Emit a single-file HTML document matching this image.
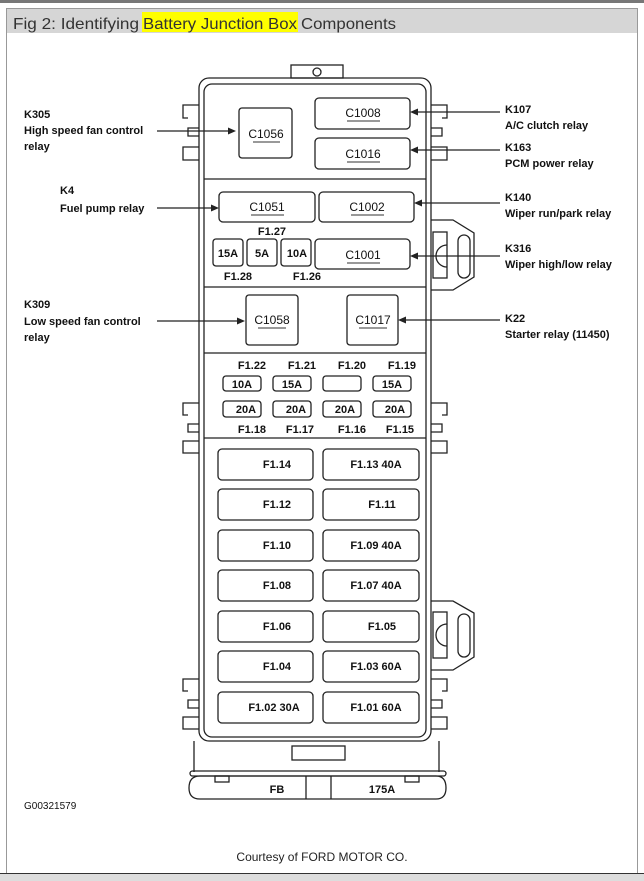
<!DOCTYPE html>
<html><head><meta charset="utf-8"><style>
body{margin:0;background:#fff;width:644px;height:881px;overflow:hidden}
svg{display:block}
text{font-family:"Liberation Sans",Arial,sans-serif}
.b{font-weight:bold;font-size:11px;fill:#111}
.c{font-size:12px;fill:#111;text-anchor:middle}
</style></head><body>
<svg width="644" height="881" viewBox="0 0 644 881">
<rect x="0" y="0" width="644" height="881" fill="#fff"/>
<rect x="0" y="0" width="644" height="3" fill="#777"/>
<rect x="6.5" y="8.5" width="631" height="865" fill="#fff" stroke="#999"/>
<rect x="7" y="9" width="630" height="24" fill="#d6d6d6"/>
<rect x="142" y="12" width="156" height="20" fill="#ffff00"/>
<g style="font-size:16px;fill:#333">
<text x="13" y="29" textLength="126" lengthAdjust="spacingAndGlyphs">Fig 2: Identifying</text>
<text x="143" y="29" textLength="154" lengthAdjust="spacingAndGlyphs">Battery Junction Box</text>
<text x="301" y="29" textLength="95" lengthAdjust="spacingAndGlyphs">Components</text>
</g>
<rect x="0" y="873" width="644" height="8" fill="#ddd"/>
<line x1="0" y1="873.5" x2="644" y2="873.5" stroke="#333"/>
<g fill="none" stroke="#222" stroke-width="1.3">
<rect x="291" y="65" width="52" height="13"/>
<circle cx="317" cy="72" r="4"/>
<rect x="199" y="78" width="232" height="663" rx="10"/>
<rect x="204" y="84" width="222" height="653" rx="8"/>
<line x1="204" y1="179" x2="426" y2="179"/>
<line x1="204" y1="287" x2="426" y2="287"/>
<line x1="204" y1="353" x2="426" y2="353"/>
<line x1="204" y1="438" x2="426" y2="438"/>
<path d="M199 105 H183 V118 H188 M199 128 H188 V136 H199 M199 147 H183 V160 H199"/>
<path d="M431 105 H447 V118 H442 M431 128 H442 V136 H431 M431 147 H447 V160 H431"/>
<path d="M199 403 H183 V415 H188 M199 424 H188 V432 H199 M199 441 H183 V453 H199"/>
<path d="M431 403 H447 V415 H442 M431 424 H442 V432 H431 M431 441 H447 V453 H431"/>
<path d="M199 679 H183 V691 H188 M199 700 H188 V708 H199 M199 717 H183 V729 H199"/>
<path d="M431 679 H447 V691 H442 M431 700 H442 V708 H431 M431 717 H447 V729 H431"/>
<path d="M431 220 H453 L474 233 V277 L453 290 H431"/>
<rect x="433" y="232" width="14" height="46"/>
<path d="M447 245 A11 11 0 0 0 447 267"/>
<rect x="458" y="235" width="12" height="43" rx="6"/>
<path d="M431 601 H453 L474 613 V657 L453 670 H431"/>
<rect x="433" y="612" width="14" height="46"/>
<path d="M447 624 A11 11 0 0 0 447 646"/>
<rect x="458" y="614" width="12" height="43" rx="6"/>
<rect x="239" y="108" width="53" height="50" rx="3"/>
<rect x="315" y="98" width="95" height="31" rx="4"/>
<rect x="315" y="138" width="95" height="31" rx="4"/>
<rect x="219" y="192" width="96" height="30" rx="4"/>
<rect x="319" y="192" width="95" height="30" rx="4"/>
<rect x="213" y="239" width="30" height="27" rx="3"/>
<rect x="247" y="239" width="30" height="27" rx="3"/>
<rect x="281" y="239" width="30" height="27" rx="3"/>
<rect x="315" y="239" width="95" height="30" rx="4"/>
<rect x="246" y="295" width="52" height="50" rx="3"/>
<rect x="347" y="295" width="51" height="50" rx="3"/>
<rect x="223" y="376" width="38" height="15" rx="3"/><rect x="273" y="376" width="38" height="15" rx="3"/><rect x="323" y="376" width="38" height="15" rx="3"/><rect x="373" y="376" width="38" height="15" rx="3"/>
<rect x="223" y="401" width="38" height="16" rx="3"/><rect x="273" y="401" width="38" height="16" rx="3"/><rect x="323" y="401" width="38" height="16" rx="3"/><rect x="373" y="401" width="38" height="16" rx="3"/>
<rect x="218" y="449" width="95" height="31" rx="4"/><rect x="323" y="449" width="96" height="31" rx="4"/>
<rect x="218" y="489" width="95" height="31" rx="4"/><rect x="323" y="489" width="96" height="31" rx="4"/>
<rect x="218" y="530" width="95" height="31" rx="4"/><rect x="323" y="530" width="96" height="31" rx="4"/>
<rect x="218" y="570" width="95" height="31" rx="4"/><rect x="323" y="570" width="96" height="31" rx="4"/>
<rect x="218" y="611" width="95" height="31" rx="4"/><rect x="323" y="611" width="96" height="31" rx="4"/>
<rect x="218" y="651" width="95" height="31" rx="4"/><rect x="323" y="651" width="96" height="31" rx="4"/>
<rect x="218" y="692" width="95" height="31" rx="4"/><rect x="323" y="692" width="96" height="31" rx="4"/>
<path d="M194 741 V772 M439 741 V772"/>
<rect x="292" y="746" width="53" height="14"/>
<rect x="190" y="771" width="256" height="5" rx="2.5"/>
<path d="M200 776 H436 Q446 776 446 788 Q446 799 436 799 H200 Q189 799 189 788 Q189 776 200 776 Z"/>
<path d="M306 776 V799 M331 776 V799"/>
<rect x="215" y="776" width="14" height="6"/><rect x="405" y="776" width="14" height="6"/>
<path d="M157 131 H228 M157 208 H213 M157 321 H240 M500 112 H414 M500 150 H414 M500 203 H418 M500 256 H414 M500 320 H402"/>
</g>
<g fill="#222">
<path d="M236 131 l-8 -3.5 v7z"/><path d="M219 208 l-8 -3.5 v7z"/><path d="M245 321 l-8 -3.5 v7z"/>
<path d="M410 112 l8 -3.5 v7z"/><path d="M410 150 l8 -3.5 v7z"/><path d="M414 203 l8 -3.5 v7z"/><path d="M410 256 l8 -3.5 v7z"/><path d="M398 320 l8 -3.5 v7z"/>
</g>
<g class="c">
<text x="266" y="138">C1056</text><text x="363" y="117">C1008</text><text x="363" y="158">C1016</text>
<text x="267" y="211">C1051</text><text x="367" y="211">C1002</text><text x="363" y="259">C1001</text>
<text x="272" y="324">C1058</text><text x="373" y="324">C1017</text>
</g>
<g stroke="#333" stroke-width="1"><path d="M253 142 H280 M347 121 H380 M347 162 H380 M251 215 H284 M351 215 H384 M347 263 H380 M258 328 H286 M359 328 H387"/></g>
<g class="b" text-anchor="middle">
<text x="272" y="235">F1.27</text>
<text x="228" y="257">15A</text><text x="262" y="257">5A</text><text x="297" y="257">10A</text>
<text x="238" y="280">F1.28</text><text x="307" y="280">F1.26</text>
<text x="252" y="369">F1.22</text><text x="302" y="369">F1.21</text><text x="352" y="369">F1.20</text><text x="402" y="369">F1.19</text>
<text x="242" y="388">10A</text><text x="292" y="388">15A</text><text x="392" y="388">15A</text>
<text x="246" y="413">20A</text><text x="296" y="413">20A</text><text x="345" y="413">20A</text><text x="395" y="413">20A</text>
<text x="252" y="433">F1.18</text><text x="300" y="433">F1.17</text><text x="352" y="433">F1.16</text><text x="400" y="433">F1.15</text>
<text x="277" y="468">F1.14</text><text x="376" y="468">F1.13  40A</text>
<text x="277" y="508">F1.12</text><text x="382" y="508">F1.11</text>
<text x="277" y="549">F1.10</text><text x="376" y="549">F1.09  40A</text>
<text x="277" y="589">F1.08</text><text x="376" y="589">F1.07  40A</text>
<text x="277" y="630">F1.06</text><text x="382" y="630">F1.05</text>
<text x="277" y="670">F1.04</text><text x="376" y="670">F1.03 60A</text>
<text x="274" y="711">F1.02  30A</text><text x="376" y="711">F1.01 60A</text>
<text x="277" y="793">FB</text><text x="382" y="793">175A</text>
</g>
<g class="b">
<text x="24" y="118">K305</text><text x="24" y="134">High speed fan control</text><text x="24" y="150">relay</text>
<text x="60" y="194">K4</text><text x="60" y="212">Fuel pump relay</text>
<text x="24" y="308">K309</text><text x="24" y="325">Low speed fan control</text><text x="24" y="341">relay</text>
<text x="505" y="113">K107</text><text x="505" y="129">A/C clutch relay</text>
<text x="505" y="151">K163</text><text x="505" y="167">PCM power relay</text>
<text x="505" y="201">K140</text><text x="505" y="217">Wiper run/park relay</text>
<text x="505" y="252">K316</text><text x="505" y="268">Wiper high/low relay</text>
<text x="505" y="322">K22</text><text x="505" y="338">Starter relay (11450)</text>
<text x="24" y="809" style="font-weight:normal;font-size:10px">G00321579</text>
</g>
<text x="322" y="861" style="font-size:12px;fill:#222" text-anchor="middle">Courtesy of FORD MOTOR CO.</text>
</svg>
</body></html>
